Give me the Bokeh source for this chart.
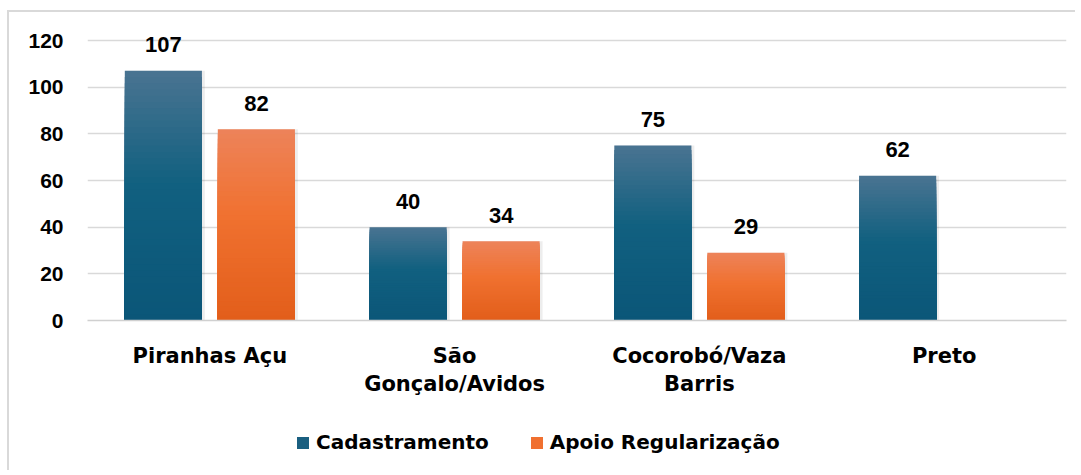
from bokeh.plotting import figure
from bokeh.layouts import column
from bokeh.models import ColumnDataSource, FactorRange, Legend, LegendItem, Range1d
from bokeh.transform import dodge
from bokeh.core.properties import value
from bokeh.embed import file_html
from bokeh.resources import INLINE

# ---------------- data ----------------
categories = ["Piranhas Açu", "São\nGonçalo/Avidos", "Cocorobó/Vaza\nBarris", "Preto"]
cadastramento = [107, 40, 75, 62]
apoio = [82, 34, 29, None]
series_names = ["Cadastramento", "Apoio Regularização"]
y_ticks = [0, 20, 40, 60, 80, 100, 120]

# ---------------- style ----------------
BLUE_STOPS = [(0.0, (74, 116, 145)), (0.45, (17, 96, 128)), (1.0, (11, 86, 120))]
ORANGE_STOPS = [(0.0, (237, 131, 90)), (0.45, (240, 113, 48)), (1.0, (226, 94, 26))]
OFFSET = 0.19
BAR_W = 0.315
N_SLICES = 40
BORDER = "2px solid #d9d9d9"

W, H1, H2 = 1068, 400, 60
FRAME_H = 304                     # 280 px for 0..120, plus headroom for labels
Y_END = 120 * FRAME_H / 280
p = figure(x_range=FactorRange(*categories), y_range=Range1d(0, Y_END),
           width=W, height=H1, output_backend="svg", toolbar_location=None,
           min_border_left=78, min_border_right=W - 78 - 979, min_border_top=4,
           min_border_bottom=H1 - 4 - FRAME_H)
p.styles = {"margin-left": "7px", "margin-top": "10px",
            "border-left": BORDER, "border-top": BORDER}
p.outline_line_color = None
p.background_fill_color = "white"
p.border_fill_color = "white"


def grad(f, stops):
    for (p0, c0), (p1, c1) in zip(stops[:-1], stops[1:]):
        if f <= p1:
            t = (f - p0) / (p1 - p0)
            c = [round(a + (b - a) * t) for a, b in zip(c0, c1)]
            return "#%02x%02x%02x" % tuple(c)
    return "#%02x%02x%02x" % stops[-1][1]


def build(values, stops):
    # slices painted from tallest (top colour) to shortest (bottom colour),
    # each from 0 up, so later slices cover the lower part -> vertical gradient
    xs, tops, cols = [], [], []
    sx, st = [], []
    for cat, v in zip(categories, values):
        if v is None:
            continue
        sx.append(cat)
        st.append(v)
        for k in range(N_SLICES):
            xs.append(cat)
            tops.append(v * (1 - k / N_SLICES))
            cols.append(grad((k + 0.5) / N_SLICES, stops))
    return (ColumnDataSource(dict(x=xs, top=tops, color=cols)),
            ColumnDataSource(dict(x=sx, top=st, label=[str(v) for v in st])))


for vals, stops, off in [(cadastramento, BLUE_STOPS, -OFFSET), (apoio, ORANGE_STOPS, OFFSET)]:
    src, lsrc = build(vals, stops)
    # soft shadow
    p.vbar(x=dodge("x", off + 0.006, range=p.x_range), top="top", bottom=-0.6, width=BAR_W + 0.012,
           source=lsrc, fill_color="black", fill_alpha=0.07, line_color=None)
    p.vbar(x=dodge("x", off, range=p.x_range), top="top", bottom=0, width=BAR_W,
           source=src, fill_color="color", line_color=None)
    p.text(x=dodge("x", off, range=p.x_range), y="top", text="label", source=lsrc,
           text_align="center", text_baseline="alphabetic", y_offset=-26,
           text_font=value("Liberation Sans"), text_font_style="bold",
           text_font_size="22px", text_color="black")

# axes
p.yaxis.ticker = y_ticks
p.yaxis.axis_line_color = None
p.yaxis.major_tick_line_color = None
p.yaxis.minor_tick_line_color = None
p.yaxis.major_label_text_font = "Liberation Sans"
p.yaxis.major_label_text_font_style = "bold"
p.yaxis.major_label_text_font_size = "21px"
p.yaxis.major_label_text_color = "black"
p.yaxis.major_label_standoff = 18

p.xaxis.axis_line_color = "#d0d0d0"
p.xaxis.axis_line_width = 1.5
p.xaxis.major_tick_line_color = None
p.xaxis.minor_tick_line_color = None
p.xaxis.major_label_text_font = "DejaVu Sans"
p.xaxis.major_label_text_font_style = "bold"
p.xaxis.major_label_text_font_size = "21px"
p.xaxis.major_label_text_color = "black"
p.xaxis.major_label_standoff = 17

p.xgrid.grid_line_color = None
p.ygrid.grid_line_color = "#d9d9d9"
p.ygrid.grid_line_width = 1.5

# ---------------- legend strip ----------------
lg = figure(width=W, height=H2, x_range=Range1d(0, W), y_range=Range1d(0, H2),
            x_axis_type=None, y_axis_type=None, output_backend="svg", toolbar_location=None,
            min_border=0)
lg.styles = {"margin-left": "7px", "border-left": BORDER}
lg.outline_line_color = None
lg.grid.grid_line_color = None
lg.border_fill_color = "white"
lg.background_fill_color = "white"
# off-screen swatch renderers (only used for the legend glyphs)
r1 = lg.vbar(x=[-5000], bottom=[-5000], top=[-4999], width=1, fill_color="#1a5f80", line_color=None)
r2 = lg.vbar(x=[-5000], bottom=[-5000], top=[-4999], width=1, fill_color="#f07030", line_color=None)
legend = Legend(items=[LegendItem(label=series_names[0], renderers=[r1]),
                       LegendItem(label=series_names[1], renderers=[r2])],
                orientation="horizontal", location=(208, 16),
                glyph_width=15, glyph_height=15, label_standoff=6, spacing=40,
                padding=0, margin=0, border_line_color=None, background_fill_alpha=0,
                label_text_font="DejaVu Sans", label_text_font_style="bold",
                label_text_font_size="20px", label_text_color="black")
lg.add_layout(legend)

layout = column(p, lg, spacing=0)
open("out.html", "w").write(file_html(layout, INLINE))
